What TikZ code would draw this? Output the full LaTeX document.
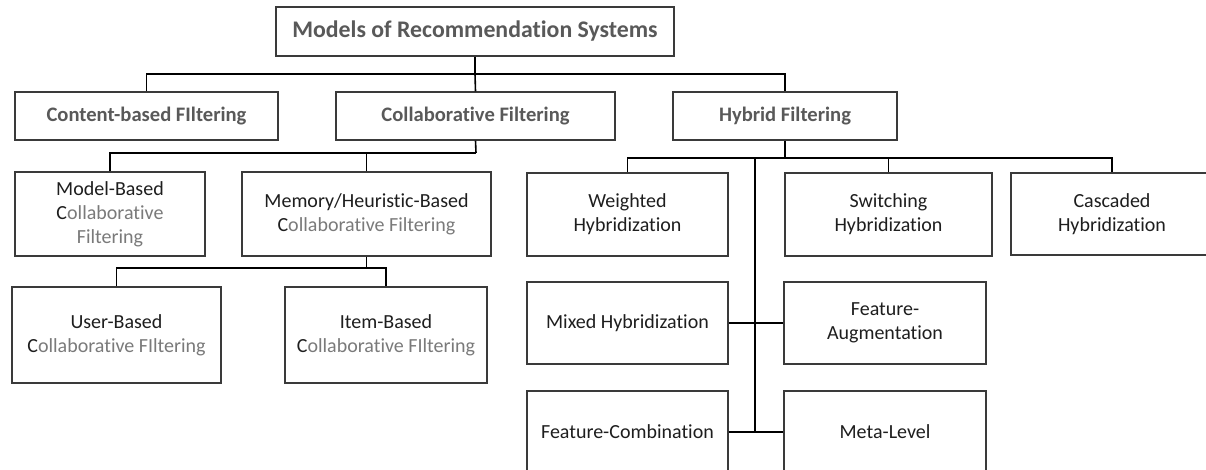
\documentclass[tikz,border=0pt]{standalone}
\usepackage{fontspec}
\setmainfont{Carlito}[Ligatures=NoCommon]
\definecolor{boxc}{HTML}{3A3A3A}
\definecolor{headc}{HTML}{595959}
\definecolor{bodyc}{HTML}{1E1E1E}
\definecolor{softc}{HTML}{7A7A7A}
\newcommand{\CF}[1]{\textcolor{bodyc}{C}\textcolor{softc}{#1}}
\tikzset{
  box/.style={draw=boxc, line width=1.3pt, inner sep=0pt, align=center, fill=white},
  head/.style={box, font=\fontsize{20.6}{24}\selectfont\bfseries, text=headc},
  body/.style={box, font=\fontsize{20}{24}\selectfont, text=bodyc},
  link/.style={draw=black, line width=1.6pt},
}
\begin{document}
\begin{tikzpicture}[x=1pt,y=-1pt]
\useasboundingbox (0,0) rectangle (1206,470);
\clip (0,0) rectangle (1206,470);
\fill[white] (0,0) rectangle (1206,470);

% level 0
\node[head, font=\fontsize{23.8}{28}\selectfont\bfseries, minimum width=398pt, minimum height=49pt] (title) at (475,31.5) {Models of Recommendation Systems};
% level 1
\node[head, minimum width=263pt, minimum height=48pt] (content) at (146.5,116) {Content-based FIltering};
\node[head, minimum width=279pt, minimum height=48pt] (collab) at (475.5,116) {Collaborative Filtering};
\node[head, minimum width=224pt, minimum height=48pt] (hybrid) at (785,116) {Hybrid Filtering};
% level 2 collaborative
\node[body, minimum width=190pt, minimum height=84pt] (model) at (110,214) {Model-Based\\\CF{ollaborative}\\\textcolor{softc}{Filtering}};
\node[body, minimum width=249pt, minimum height=84pt] (memory) at (366.5,214) {Memory/Heuristic-Based\\\CF{ollaborative Filtering}};
\node[body, minimum width=209pt, minimum height=96pt] (user) at (116.5,335) {User-Based\\\CF{ollaborative FIltering}};
\node[body, minimum width=202pt, minimum height=96pt] (item) at (386,335) {Item-Based\\\CF{ollaborative FIltering}};
% hybrid
\node[body, minimum width=201pt, minimum height=83pt] (weighted) at (627.5,214.5) {Weighted\\Hybridization};
\node[body, minimum width=207pt, minimum height=83pt] (switching) at (888.5,214.5) {Switching\\Hybridization};
\node[body, minimum width=202pt, minimum height=82pt] (cascaded) at (1112,214) {Cascaded\\Hybridization};
\node[body, minimum width=201pt, minimum height=82pt] (mixed) at (627.5,323) {Mixed Hybridization};
\node[body, minimum width=202pt, minimum height=82pt] (augment) at (885,323) {Feature-\\Augmentation};
\node[body, minimum width=201pt, minimum height=82pt] (combine) at (627.5,432) {Feature-Combination};
\node[body, minimum width=202pt, minimum height=82pt] (meta) at (885,432) {Meta-Level};

% connectors
\coordinate (j0) at (475,74);
\draw[link] (title.south) -- (j0);
\draw[link] (content.north) |- (j0) -| (hybrid.north);
\draw[link] (j0) -- (collab.north);

\coordinate (j1) at (476,153);
\draw[link] (collab.south) -- (j1);
\draw[link] (model.north) |- (j1);
\draw[link] (memory.north) -- (memory.north |- j1);

\coordinate (j2) at (366.5,268);
\draw[link] (memory.south) -- (j2);
\draw[link] (user.north) |- (j2) -| (item.north);

\coordinate (j3) at (785,158);
\draw[link] (hybrid.south) -- (j3);
\draw[link] (weighted.north) |- (j3) -| (cascaded.north);
\draw[link] (switching.north) -- (switching.north |- j3);

\coordinate (t0) at (755,158);
\coordinate (t1) at (755,432);
\draw[link] (t0) -- (t1);
\draw[link] (mixed.east) -- (augment.west);
\draw[link] (combine.east) -- (meta.west);
\end{tikzpicture}
\end{document}
